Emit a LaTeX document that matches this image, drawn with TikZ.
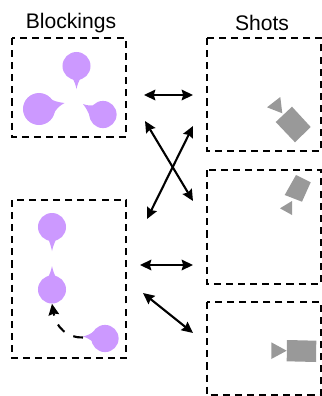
\documentclass[tikz,border=0pt]{standalone}
\usepackage{fontspec}
\setmainfont{Liberation Sans}
\usetikzlibrary{positioning}
\usetikzlibrary{arrows.meta}
\definecolor{actorc}{HTML}{CC99FF}
\definecolor{camc}{HTML}{999999}
\tikzset{
    framebox/.style = {draw=black, line width=1.15pt, dash pattern=on 5pt off 3.6pt},
    actor/.style = {circle, fill=actorc, inner sep=0pt},
    tail/.style = {fill=actorc},
    camera/.style = {fill=camc},
    link/.style = {{Stealth[length=8pt,width=7.5pt,inset=1pt]}-{Stealth[length=8pt,width=7.5pt,inset=1pt]}, line width=1.5pt},
    title/.style = {font=\fontsize{15}{18}\selectfont},
}
\begin{document}
\begin{tikzpicture}[x=0.025cm,y=-0.025cm]
\useasboundingbox (0,0) rectangle (322,396);
% boxes
\node[title] at (71,23) (tb) {Blockings};
\node[title] at (262,23) (ts) {Shots};
\draw[framebox] (12,38) rectangle (126,137);
\draw[framebox] (12,200) rectangle (126,358);
\draw[framebox] (207,38) rectangle (321,151);
\draw[framebox] (207,170) rectangle (321,284);
\draw[framebox] (207,302) rectangle (321,395);
% top blocking
\node[actor, minimum size=0.7cm] at (76.5,66) (a1) {};
\node[actor, minimum size=0.8cm] at (39,109) (a2) {};
\node[actor, minimum size=0.68cm] at (103,114.5) (a3) {};
\fill[tail] (72,77) .. controls (74,81) and (75.5,84) .. (76.5,89) .. controls (77.5,84) and (79,81) .. (81,77) -- cycle;
\fill[tail] (49,97) .. controls (52,101) and (57,102) .. (64.5,103) .. controls (59,106) and (56,109) .. (53,115) -- cycle;
\fill[tail] (95,105) .. controls (91,106) and (87,105.5) .. (83,104) .. controls (86,108) and (88,111) .. (90,117) -- cycle;
% lower blocking
\node[actor, minimum size=0.7cm] at (52,227) (a4) {};
\node[actor, minimum size=0.7cm] at (52,289.5) (a5) {};
\node[actor, minimum size=0.68cm] at (105,338.5) (a6) {};
\fill[tail] (48,238) .. controls (49.5,242) and (51,246) .. (52,251) .. controls (53,246) and (55,242) .. (56.5,238) -- cycle;
\fill[tail] (47.5,278) .. controls (49.5,275) and (51,271) .. (52,266) .. controls (53,271) and (54.5,275) .. (56.5,278) -- cycle;
\fill[tail] (94,331) .. controls (91,334) and (87,335.5) .. (83,336.5) .. controls (87,337.5) and (91,340) .. (94,343) -- cycle;
\draw[-{Stealth[length=8pt,width=7.5pt,inset=1pt]}, line width=1.5pt, dash pattern=on 7pt off 7pt] (83,337.5) .. controls (68,338) and (56,328) .. (a5.south);
% cameras
\fill[camera] (292,106.7) -- (310.7,127) -- (295,142.3) -- (275.7,122) -- cycle;
\fill[camera] (280.3,97) -- (267,107.3) -- (282.3,113.3) -- cycle;
\fill[camera] (296,175) -- (310.7,182.3) -- (302,201.7) -- (284.7,195) -- cycle;
\fill[camera] (292,201) -- (280,208.3) -- (292,215) -- cycle;
\fill[camera] (287,340) -- (316.3,340.7) -- (316,362) -- (286.7,361.3) -- cycle;
\fill[camera] (271.3,342.3) -- (286.7,350.7) -- (271.3,359) -- cycle;
% links
\coordinate (l1) at (144,95);
\coordinate (r1) at (193,95);
\coordinate (l2) at (145,121);
\coordinate (r2) at (193,201);
\coordinate (l3) at (147,219);
\coordinate (r3) at (193,126);
\coordinate (l4) at (140,265);
\coordinate (r4) at (193,265);
\coordinate (l5) at (143,293);
\coordinate (r5) at (193,333);
\draw[link] (l1) to (r1);
\draw[link] (l2) to (r2);
\draw[link] (l3) to (r3);
\draw[link] (l4) to (r4);
\draw[link] (l5) to (r5);
\end{tikzpicture}
\end{document}
